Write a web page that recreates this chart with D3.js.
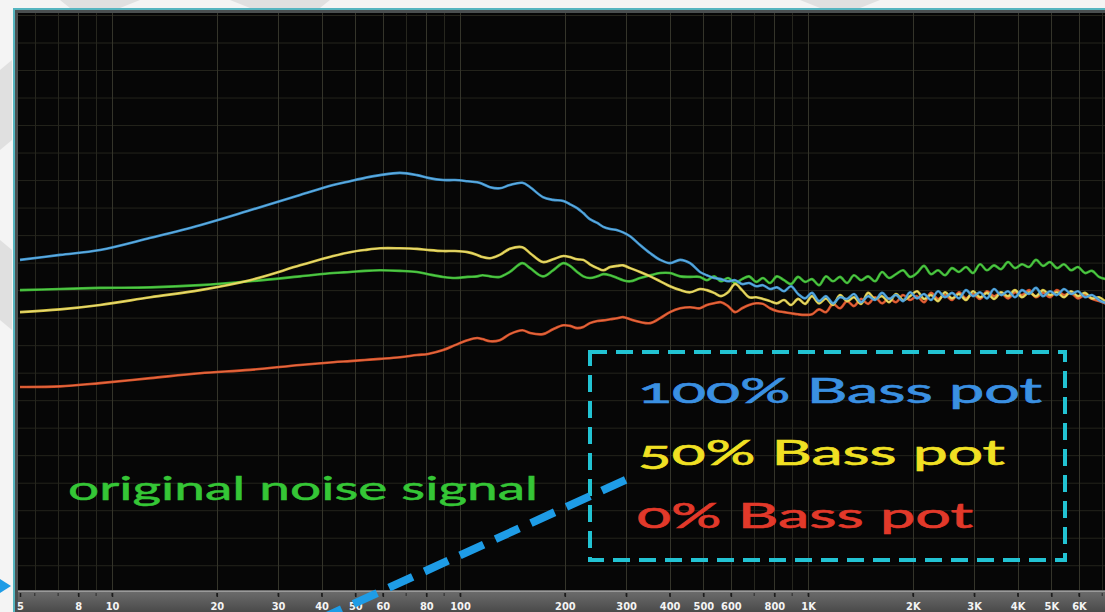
<!DOCTYPE html>
<html>
<head>
<meta charset="utf-8">
<script src="https://cdn.jsdelivr.net/npm/d3@7"></script>
<style>
  html, body { margin: 0; padding: 0; background: #f3f3f3; }
  svg { display: block; }
  .legend { font-family: "Lato", "Noto Sans", sans-serif; font-weight: normal; font-feature-settings: "onum" 1; font-variant-numeric: oldstyle-nums; }
  .tick text { font-family: "Liberation Sans Narrow", "DejaVu Sans Condensed", "Liberation Sans", sans-serif; font-weight: bold; }
</style>
</head>
<body>
<svg id="chart" width="1105" height="612"></svg>
<script>
// ---------------- data (frequency in Hz, level in dB) ----------------
const freqs = [
  5.44, 7.09, 9.24, 12.9, 17.9, 24.9, 34.7, 43.2, 48.3, 53.3,
  58.9, 67.2, 75.2, 80.9, 89.4, 96.7, 105, 112, 116, 122,
  130, 139, 151, 159, 173, 185, 198, 207, 217, 226,
  236, 248, 258, 270, 283, 294, 308, 329, 352, 376,
  401, 429, 458,
  489, 512, 537, 562, 589, 617, 646, 677, 709, 742,
  777, 814, 853, 893, 936, 980, 1026, 1075, 1126, 1179,
  1235, 1294, 1355, 1419, 1487, 1557, 1631, 1708, 1789, 1874,
  1963, 2056, 2153, 2255, 2362, 2474, 2591, 2714, 2843, 2977,
  3119, 3266, 3421, 3583, 3753, 3931, 4117, 4313, 4517, 4731,
  4955, 5190, 5436, 5694, 5964, 6247, 6543, 6853, 7178
];

const bass100 = [
  -44.5, -43.6, -42.7, -40.5, -38.2, -35.5, -32.7, -30.9, -30.2, -29.6,
  -29.1, -28.7, -29.1, -29.6, -30, -30, -30.2, -30.4, -30.7, -31.3,
  -31.5, -30.9, -30.5, -31.3, -33.1, -33.6, -33.8, -34.4, -35.1, -36,
  -37.1, -37.8, -38.5, -38.9, -39.1, -39.5, -40.2, -41.8, -43.3, -44.5,
  -45.1, -44.5, -45.1,
  -46.7, -47.3, -47.8, -48, -48.4, -48.2, -48.9, -48.7, -49.3, -49.1,
  -49.8, -49.5, -50.2, -49.3, -50.7, -51.5, -50.5, -52, -51.1, -52.4,
  -51.3, -51.6, -50.7, -52.2, -51.1, -51.8, -50.5, -51.6, -50.9, -52,
  -50.4, -51.5, -50.7, -51.8, -50.2, -51.3, -50.5, -51.5, -50, -51.1,
  -50.4, -51.5, -49.8, -50.9, -50.2, -51.3, -50, -50.7, -49.6, -51.1,
  -50.2, -50.9, -49.8, -50.7, -50.2, -51.3, -50.9, -51.8, -52.4
];

const bass50 = [
  -54, -53.5, -52.7, -51.3, -50, -48.2, -45.5, -43.8, -43.1, -42.7,
  -42.4, -42.4, -42.5, -42.7, -42.9, -42.9, -43.1, -43.6, -44, -44.2,
  -43.6, -42.5, -42.2, -43.3, -44.9, -44.4, -43.8, -44, -44.4, -44.5,
  -45.3, -46, -46.4, -45.8, -45.6, -45.5, -46, -46.7, -47.5, -48.4,
  -49.3, -50, -50.4,
  -49.8, -50, -50.5, -51.1, -50.4, -48.9, -50, -51.3, -51.3, -51.6,
  -52, -52.4, -51.8, -52.7, -51.6, -52.5, -51.1, -52.4, -51.5, -52.7,
  -50.9, -52, -51.3, -52.5, -50.5, -51.6, -51.1, -52.2, -50.7, -51.8,
  -51.1, -50.2, -51.6, -50.9, -52, -50.4, -51.5, -50.7, -51.8, -50.2,
  -51.3, -50.5, -51.6, -50.4, -51.1, -50, -51.3, -50.4, -51.1, -50,
  -50.9, -50.4, -51.3, -50.2, -51.1, -50.5, -51.5, -51.3, -52.2
];

const bass0 = [
  -67.6, -67.5, -66.9, -66, -65.1, -64.5, -63.6, -63.1, -62.9, -62.7,
  -62.5, -62.2, -61.8, -61.6, -60.9, -60, -59.1, -58.7, -58.9, -59.3,
  -59.1, -58, -57.3, -57.8, -58, -57.1, -56.4, -56.5, -56.9, -56.7,
  -56, -55.6, -55.5, -55.3, -55.1, -54.9, -55.3, -55.8, -56, -55.1,
  -54, -53.3, -53.1,
  -53.3, -52.7, -52.4, -52.2, -52.9, -54, -53.3, -52.7, -52.4, -52.5,
  -53.3, -53.8, -54, -54.2, -54.4, -54.5, -54.4, -53.5, -54, -52.5,
  -53.3, -52, -52.9, -51.6, -52.5, -51.3, -52.4, -51.5, -52.2, -50.9,
  -51.8, -51.1, -52.2, -50.5, -51.6, -50.9, -51.8, -50.4, -51.5, -50.7,
  -51.6, -50.2, -51.1, -50.5, -51.5, -50.4, -50.9, -50, -51.3, -50.5,
  -51.3, -50, -50.9, -50.5, -51.5, -50.9, -51.6, -52, -52.5
];

const originalNoise = [
  -50, -49.8, -49.6, -49.5, -49.1, -48.4, -47.5, -46.9, -46.7, -46.5,
  -46.4, -46.5, -46.7, -47.1, -47.6, -47.8, -47.6, -47.5, -47.3, -47.5,
  -47.6, -46.7, -45.1, -46, -47.5, -46.4, -45.1, -45.6, -46.7, -47.5,
  -47.8, -47.5, -47.1, -47.3, -47.8, -48.2, -48.4, -47.8, -47.3, -46.9,
  -46.9, -47.5, -47.6,
  -47.6, -48.2, -47.5, -48.4, -47.8, -48.7, -48, -47.5, -48.5, -47.8,
  -48.7, -47.5, -48.2, -48.9, -47.6, -48.5, -48, -49.1, -47.5, -48.4,
  -47.6, -48.7, -47.3, -48.2, -47.5, -48.4, -46.7, -47.8, -47.1, -46.4,
  -47.6, -46.9, -45.6, -47.1, -46.4, -47.3, -46, -46.7, -45.8, -46.9,
  -45.3, -46.4, -45.5, -46.2, -44.9, -46, -45.3, -45.8, -44.5, -45.6,
  -44.9, -46, -45.3, -46.4, -45.8, -46.9, -46.5, -47.6, -48
];

const gridFreqs = [6, 7, 8, 9, 10, 20, 30, 40, 50, 60, 70, 80, 90,
  100, 200, 300, 400, 500, 600, 700, 800, 900,
  1000, 2000, 3000, 4000, 5000, 6000, 7000];
const tickFreqs = [5.44, 8, 10, 20, 30, 40, 50, 60, 80, 100, 200, 300, 400, 500, 600, 800,
  1000, 2000, 3000, 4000, 5000, 6000];
const tickLabels = ["5", "8", "10", "20", "30", "40", "50", "60", "80", "100", "200", "300", "400", "500", "600", "800",
  "1K", "2K", "3K", "4K", "5K", "6K"];

const legendLabels = ["100% Bass pot", "50% Bass pot", "0% Bass pot"];
const noiseLabel = "original noise signal";

// ---------------- drawing ----------------
const W = 1105, H = 612;
const svg = d3.select("#chart");
const plotL = 18, plotT = 13, plotB = 590, plotR = W;

const x = d3.scaleLog().domain([5.44, 7130]).range([20, 1105]);
const y = d3.scaleLinear().domain([0, -104.5]).range([15, 590]);

// background slide remnants
svg.append("rect").attr("width", W).attr("height", H).attr("fill", "#f4f4f4");
const bgShapes = [[[60,0],[140,0],[120,8],[70,8]], [[230,0],[330,0],[320,8],[250,8]], [[800,0],[880,0],[860,8],[820,8]],
  [[0,70],[12,60],[12,140],[0,150]], [[0,240],[12,250],[12,330],[0,320]]];
svg.selectAll("polygon.bg").data(bgShapes).enter().append("polygon")
  .attr("points", d => d.map(p => p.join(",")).join(" ")).attr("fill", "#e0e0e0");

// frame
svg.append("rect").attr("x", 13).attr("y", 8).attr("width", W - 13).attr("height", H - 8).attr("fill", "#55b5c0");
svg.append("rect").attr("x", 15).attr("y", 10).attr("width", W - 15).attr("height", H - 10).attr("fill", "#4a4f50");
svg.append("rect").attr("x", plotL).attr("y", plotT).attr("width", plotR - plotL).attr("height", plotB - plotT).attr("fill", "#060606");

const defs = svg.append("defs");
defs.append("clipPath").attr("id", "plotclip").append("rect")
  .attr("x", plotL).attr("y", plotT).attr("width", plotR - plotL).attr("height", plotB - plotT);
const grad = defs.append("linearGradient").attr("id", "band").attr("x1", 0).attr("y1", 0).attr("x2", 0).attr("y2", 1);
grad.append("stop").attr("offset", "0%").attr("stop-color", "#6e6e6e");
grad.append("stop").attr("offset", "100%").attr("stop-color", "#4a4a4a");

const plot = svg.append("g").attr("clip-path", "url(#plotclip)");

// grid
const hGrid = d3.range(0, -105, -5);
plot.selectAll("line.h").data(hGrid).enter().append("line")
  .attr("x1", plotL).attr("x2", plotR).attr("y1", d => y(d) + 0.5).attr("y2", d => y(d) + 0.5)
  .attr("stroke", "#24241c").attr("stroke-width", 1);
plot.selectAll("line.v").data(gridFreqs).enter().append("line")
  .attr("x1", d => Math.round(x(d)) + 0.5).attr("x2", d => Math.round(x(d)) + 0.5)
  .attr("y1", plotT).attr("y2", plotB)
  .attr("stroke", d => tickFreqs.includes(d) ? "#34342a" : "#26261e").attr("stroke-width", 1);

// series
const series = [
  { name: "original", values: originalNoise, color: "#3dbb35", core: "#6ee060" },
  { name: "0%", values: bass0, color: "#de5128", core: "#f08a60" },
  { name: "50%", values: bass50, color: "#e2cf45", core: "#f6efb0" },
  { name: "100%", values: bass100, color: "#3f9ad8", core: "#8ccaf0" }
];
const line = d3.line().x(d => x(d[0])).y(d => y(d[1])).curve(d3.curveCatmullRom.alpha(0.5));
series.forEach(s => {
  const pts = freqs.map((f, i) => [f, s.values[i]]);
  plot.append("path").datum(pts).attr("d", line).attr("fill", "none")
    .attr("stroke", s.color).attr("stroke-width", 2.6).attr("stroke-linejoin", "round").attr("opacity", 0.95);
  plot.append("path").datum(pts).attr("d", line).attr("fill", "none")
    .attr("stroke", s.core).attr("stroke-width", 0.8).attr("opacity", 0.7);
});

// bottom frequency band
svg.append("rect").attr("x", plotL).attr("y", plotB).attr("width", plotR - plotL).attr("height", H - plotB).attr("fill", "url(#band)");
svg.append("line").attr("x1", plotL).attr("x2", plotR).attr("y1", plotB + 1.5).attr("y2", plotB + 1.5)
  .attr("stroke", "#9a9a9a").attr("stroke-width", 1);
svg.selectAll("line.minor").data(gridFreqs).enter().append("line")
  .attr("x1", d => x(d)).attr("x2", d => x(d)).attr("y1", plotB + 3).attr("y2", plotB + 6)
  .attr("stroke", "#2a2a2a").attr("stroke-width", 1);

const axis = d3.axisBottom(x).tickValues(tickFreqs).tickFormat((d, i) => tickLabels[i]).tickSize(4).tickPadding(5);
const ax = svg.append("g").attr("transform", `translate(0,${plotB + 3})`).call(axis);
ax.select(".domain").remove();
ax.selectAll(".tick line").attr("stroke", "#1c1c1c").attr("stroke-width", 1.5);
ax.selectAll(".tick text").attr("fill", "#f4f4f4").attr("font-size", 11);

// annotation: original noise label
svg.append("text").attr("class", "legend").attr("x", 68).attr("y", 500)
  .attr("font-size", 33).attr("fill", "#35c636").attr("stroke", "#35c636").attr("stroke-width", 0.5)
  .attr("textLength", 470).attr("lengthAdjust", "spacingAndGlyphs").text(noiseLabel);

// dashed legend box
svg.append("rect").attr("x", 590).attr("y", 352).attr("width", 475).attr("height", 208)
  .attr("fill", "none").attr("stroke", "#22c3d3").attr("stroke-width", 4).attr("stroke-dasharray", "17 9");

const legendStyle = [
  { color: "#3a90e2", x: 638, y: 403, len: 404 },
  { color: "#f0e023", x: 638, y: 465, len: 367 },
  { color: "#e2392a", x: 637, y: 528, len: 336 }
];
legendLabels.forEach((t, i) => {
  const st = legendStyle[i];
  svg.append("text").attr("class", "legend").attr("x", st.x).attr("y", st.y)
    .attr("font-size", 35).attr("fill", st.color).attr("stroke", st.color).attr("stroke-width", 0.6)
    .attr("textLength", st.len).attr("lengthAdjust", "spacingAndGlyphs").text(t);
});

// dashed pointer arrow
svg.append("line").attr("x1", 318).attr("y1", 620).attr("x2", 632).attr("y2", 477)
  .attr("stroke", "#1e9ce6").attr("stroke-width", 8).attr("stroke-dasharray", "26 13");
// small arrow at the left edge
svg.append("polygon").attr("points", "0,579 11,586 0,593").attr("fill", "#1e9ce6");
</script>
</body>
</html>
